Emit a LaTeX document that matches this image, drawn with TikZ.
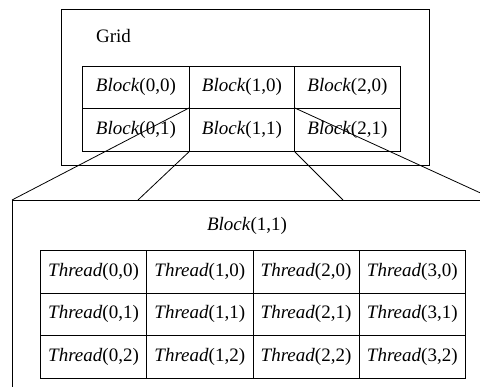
\documentclass[tikz,border=0pt]{standalone}
\usepackage{fontspec}
\setmainfont{Liberation Serif}
\begin{document}
\begin{tikzpicture}[x=1pt,y=-1pt,
  frame/.style={draw, line width=0.8pt, inner sep=0pt, anchor=north west},
  cell/.style={draw, line width=0.8pt, inner sep=0pt, anchor=north west,
    font=\fontsize{19}{22}\selectfont},
  link/.style={line width=0.8pt},
  lbl/.style={font=\fontsize{19}{22}\selectfont, inner sep=0pt}]
\useasboundingbox (0,0) rectangle (480,387);
\clip (0,0) rectangle (480,387);

% outer grid frame
\node[frame, minimum width=368pt, minimum height=156pt] (grid) at (61,9) {};
\node[lbl] (gridlbl) at (113.5,36) {Grid};

% blocks of the grid
\node[cell, minimum width=107pt, minimum height=42pt] (b00) at (82,66) {\textit{Block}(0,0)};
\node[cell, minimum width=105pt, minimum height=42pt] (b10) at (189,66) {\textit{Block}(1,0)};
\node[cell, minimum width=106pt, minimum height=42pt] (b20) at (294,66) {\textit{Block}(2,0)};
\node[cell, minimum width=107pt, minimum height=43pt] (b01) at (82,108) {\textit{Block}(0,1)};
\node[cell, minimum width=105pt, minimum height=43pt] (b11) at (189,108) {\textit{Block}(1,1)};
\node[cell, minimum width=106pt, minimum height=43pt] (b21) at (294,108) {\textit{Block}(2,1)};

% enlarged block frame
\node[frame, minimum width=483pt, minimum height=220pt] (big) at (12,200) {};
\node[lbl] (biglbl) at (247,226) {\textit{Block}(1,1)};

% threads of the block
\foreach \c/\x in {0/40,1/146.25,2/252.5,3/358.75}{
  \foreach \r/\y in {0/250,1/292.67,2/335.33}{
    \node[cell, minimum width=106.25pt, minimum height=42.67pt] (t\c\r) at (\x,\y) {\textit{Thread}(\c,\r)};
  }
}

% zoom connectors
\coordinate (p2) at (138,200);
\coordinate (p3) at (343,200);
\draw[link] (b11.north west) -- (big.north west);
\draw[link] (b11.south west) -- (p2);
\draw[link] (b11.south east) -- (p3);
\draw[link] (b11.north east) -- (big.north east);
\end{tikzpicture}
\end{document}
